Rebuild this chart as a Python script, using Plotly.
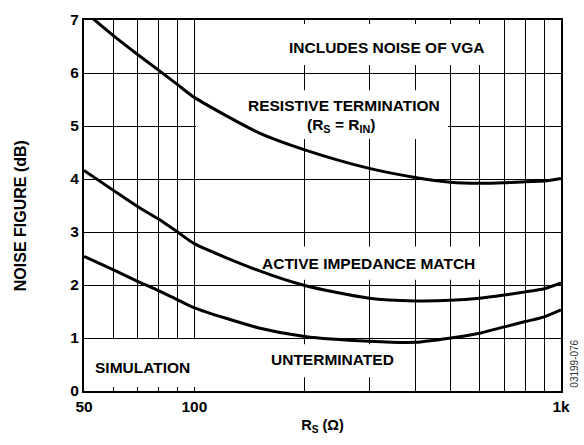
import math
import plotly.graph_objects as go

# Source resistance (ohms) and simulated noise figure (dB) for each input configuration
rs_ohms = [50, 60, 70, 80, 90, 100, 150, 200, 300, 400, 500, 600, 700, 800, 900, 1000]
nf_resistive = [7.17, 6.71, 6.35, 6.05, 5.78, 5.54, 4.87, 4.55, 4.20, 4.03, 3.94, 3.92, 3.93, 3.95, 3.96, 4.01]
nf_active = [4.16, 3.79, 3.48, 3.24, 3.00, 2.78, 2.27, 1.99, 1.75, 1.70, 1.71, 1.75, 1.81, 1.87, 1.93, 2.04]
nf_unterminated = [2.54, 2.29, 2.07, 1.89, 1.72, 1.57, 1.19, 1.03, 0.94, 0.92, 1.00, 1.09, 1.21, 1.31, 1.40, 1.53]

x_grid = [50, 60, 70, 80, 90, 100, 200, 300, 400, 500, 600, 700, 800, 900, 1000]
x_labels = ["50", "", "", "", "", "100", "", "", "", "", "", "", "", "", "1k"]
y_ticks = [0, 1, 2, 3, 4, 5, 6, 7]

FONT = "Liberation Sans, Arial, sans-serif"
W, H = 584, 445
L, R, T, B = 84, 23, 11, 54
PW, PH = W - L - R, H - T - B
X_LOG_RANGE = [math.log10(50), 3.0]
Y_RANGE = [0, 7]


def px(sx):
    return (sx - L) / PW


def py(sy):
    return (H - B - sy) / PH


def to_x(sx):
    lo, hi = X_LOG_RANGE
    return 10 ** (lo + px(sx) * (hi - lo))


def to_y(sy):
    lo, hi = Y_RANGE
    return lo + py(sy) * (hi - lo)


fig = go.Figure()

# white label panels that interrupt the grid; added first so curves sit on top
panels = [
    (281, 15, 494, 57),    # includes noise of VGA
    (196, 83, 448, 133),   # resistive termination
    (250, 243, 481, 277),  # active impedance match
    (262, 343, 402, 377),  # unterminated
    (86, 338, 200, 387),   # simulation
]
for a, b, c, d in panels:
    x0, x1, y0, y1 = to_x(a), to_x(c), to_y(d), to_y(b)
    fig.add_trace(go.Scatter(
        x=[x0, x1, x1, x0, x0], y=[y0, y0, y1, y1, y0],
        mode="lines", fill="toself", fillcolor="white",
        line=dict(width=0, color="white"),
        hoverinfo="skip", showlegend=False,
    ))

for series in (nf_resistive, nf_active, nf_unterminated):
    fig.add_trace(go.Scatter(
        x=rs_ohms, y=series, mode="lines",
        line=dict(color="black", width=3, shape="spline", smoothing=0.7),
        hoverinfo="skip", showlegend=False,
    ))

bold = dict(family=FONT, size=15.5, color="black")
annotations = [
    dict(text="<b>INCLUDES NOISE OF VGA</b>", x=px(387), y=py(39)),
    dict(text="<b>RESISTIVE TERMINATION</b>", x=px(344), y=py(99)),
    dict(text="<b>(R<sub>S</sub> = R<sub>IN</sub>)</b>", x=px(341), y=py(119)),
    dict(text="<b>ACTIVE IMPEDANCE MATCH</b>", x=px(368), y=py(260)),
    dict(text="<b>UNTERMINATED</b>", x=px(332), y=py(359)),
    dict(text="<b>SIMULATION</b>", x=px(142), y=py(367)),
]
for a in annotations:
    a.update(xref="paper", yref="paper", showarrow=False, font=bold,
             xanchor="center", yanchor="middle")

annotations.append(dict(
    text="<b>NOISE FIGURE (dB)</b>", xref="paper", yref="paper",
    x=px(20), y=py(212), textangle=-90, showarrow=False,
    font=dict(family=FONT, size=16, color="black"),
    xanchor="center", yanchor="middle"))
annotations.append(dict(
    text="03199-076", xref="paper", yref="paper",
    x=px(575), y=py(363), textangle=-90, showarrow=False,
    font=dict(family=FONT, size=10, color="#333"),
    xanchor="center", yanchor="middle"))

fig.update_layout(
    width=W, height=H,
    margin=dict(l=L, r=R, t=T, b=B, pad=0),
    paper_bgcolor="white", plot_bgcolor="white",
    annotations=annotations,
    font=dict(family=FONT, color="black"),
)
fig.update_xaxes(
    type="log", range=X_LOG_RANGE,
    tickvals=x_grid, ticktext=[f"<b>{t}</b>" if t else "" for t in x_labels],
    tickfont=dict(family=FONT, size=15.5, color="black"),
    ticks="inside", ticklen=4, tickwidth=1.2, tickcolor="black",
    showgrid=True, gridcolor="black", gridwidth=1.2,
    showline=True, linecolor="black", linewidth=2, mirror="ticks",
    zeroline=False,
    title=dict(text="<b>R<sub>S</sub> (Ω)</b>", font=dict(family=FONT, size=14.5, color="black"), standoff=6),
)
fig.update_yaxes(
    range=Y_RANGE, tickvals=y_ticks, ticktext=[f"<b>{v}</b>" for v in y_ticks],
    tickfont=dict(family=FONT, size=15.5, color="black"),
    ticks="", showgrid=True, gridcolor="black", gridwidth=1.2,
    showline=True, linecolor="black", linewidth=2, mirror=True,
    zeroline=False,
)

fig.write_html("out.html")
